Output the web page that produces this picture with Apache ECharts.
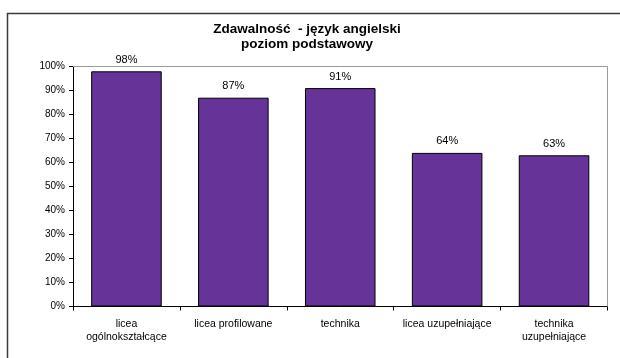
<!DOCTYPE html>
<html>
<head>
<meta charset="utf-8">
<script src="https://cdn.jsdelivr.net/npm/echarts@6/dist/echarts.min.js"></script>
<style>
  html, body { margin: 0; padding: 0; background: #fff; }
  #chart { width: 620px; height: 358px; }
</style>
</head>
<body>
<div id="chart"></div>
<script>
// Pass rates by school type
const categories = [
  'licea\nogólnokształcące',
  'licea profilowane',
  'technika',
  'licea uzupełniające',
  'technika\nuzupełniające'
];
const passRates = [98, 87, 91, 64, 63];
const yTicks = [0, 10, 20, 30, 40, 50, 60, 70, 80, 90, 100];

const font = 'Liberation Sans, Arial, sans-serif';
const chart = echarts.init(document.getElementById('chart'), null, { renderer: 'canvas' });

chart.setOption({
  animation: false,
  backgroundColor: '#ffffff',
  graphic: [
    {
      type: 'rect',
      shape: { x: 7.5, y: 13.5, width: 700, height: 500 },
      style: { fill: 'none', stroke: '#3a3a3a', lineWidth: 1.5 },
      silent: true
    },
    {
      type: 'text',
      x: 307,
      y: 21.5,
      style: {
        text: 'Zdawalność  - język angielski\npoziom podstawowy',
        font: 'bold 13.5px ' + font,
        fill: '#000',
        align: 'center',
        verticalAlign: 'top',
        lineHeight: 15
      }
    },
    {
      // plot area frame (top and right edges)
      type: 'polyline',
      shape: { points: [[73, 66.5], [607.5, 66.5], [607.5, 306.5]] },
      style: { fill: 'none', stroke: '#9a9a9a', lineWidth: 1 },
      silent: true,
      z: 1
    }
  ],
  grid: { left: 73, right: 12.5, top: 66.5, bottom: 51.5, containLabel: false },
  xAxis: {
    type: 'category',
    data: categories,
    axisLine: { show: true, lineStyle: { color: '#000', width: 1 } },
    axisTick: { show: true, alignWithLabel: false, length: 4, lineStyle: { color: '#000' } },
    axisLabel: {
      interval: 0,
      margin: 11,
      fontFamily: font,
      fontSize: 10.5,
      color: '#000',
      lineHeight: 13
    },
    splitLine: { show: false }
  },
  yAxis: {
    type: 'value',
    min: yTicks[0],
    max: yTicks[yTicks.length - 1],
    interval: 10,
    axisLine: { show: true, lineStyle: { color: '#000', width: 1 } },
    axisTick: { show: true, length: 4, lineStyle: { color: '#000' } },
    axisLabel: {
      margin: 8,
      fontFamily: font,
      fontSize: 10,
      color: '#000',
      formatter: v => v + '%'
    },
    splitLine: { show: false }
  },
  series: [{
    type: 'bar',
    data: passRates,
    barWidth: '66%',
    itemStyle: { color: '#663399', borderColor: '#000', borderWidth: 1 },
    label: {
      show: true,
      position: 'top',
      distance: 6,
      fontFamily: font,
      fontSize: 11,
      color: '#000',
      formatter: p => p.value + '%'
    }
  }]
});
</script>
</body>
</html>
